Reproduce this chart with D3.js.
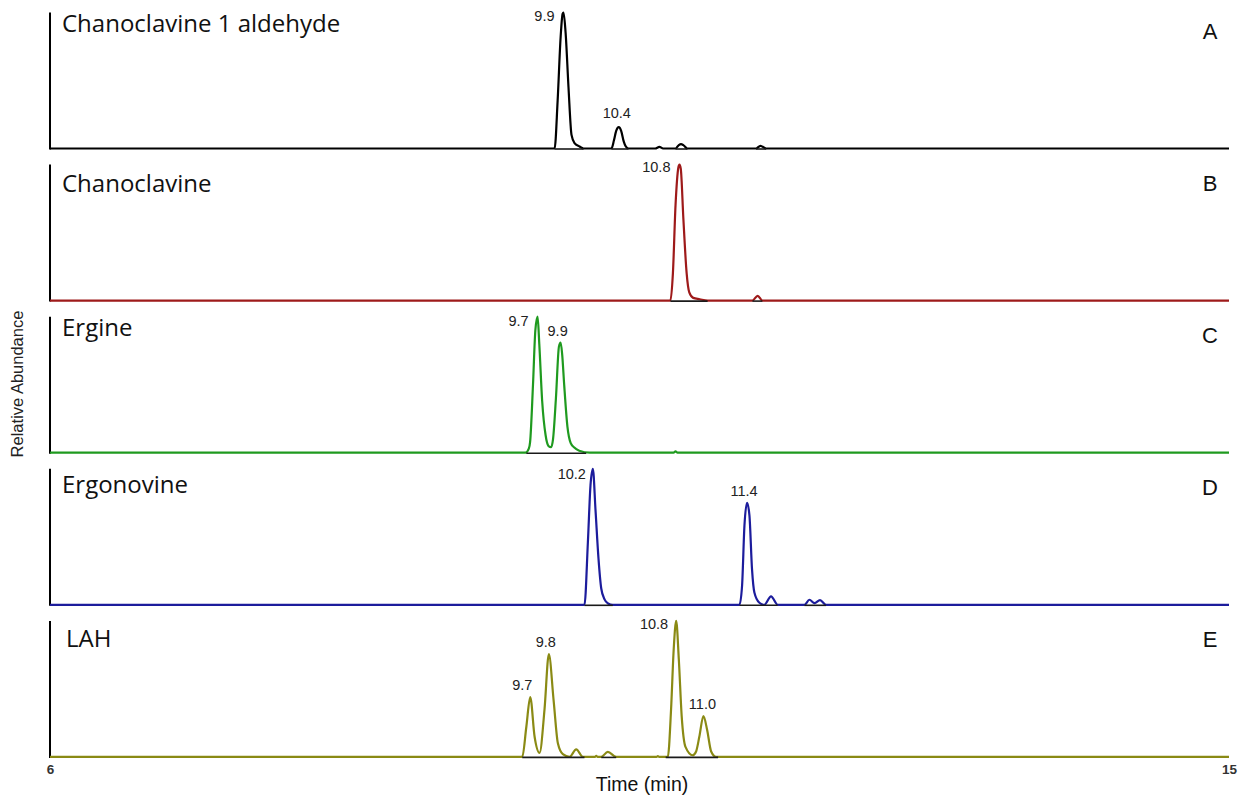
<!DOCTYPE html>
<html>
<head>
<meta charset="utf-8">
<script src="https://cdn.jsdelivr.net/npm/d3@7"></script>
<style>
  html, body { margin: 0; padding: 0; background: #fff; }
  svg { display: block; }
</style>
</head>
<body>
<svg id="chart" width="1244" height="799"></svg>
<script>
// Extracted ion chromatograms, retention time (min) vs relative abundance (0-1)
const panelNames = ["Chanoclavine 1 aldehyde", "Chanoclavine", "Ergine", "Ergonovine", "LAH"];
const panelLetters = ["A", "B", "C", "D", "E"];
const timeTicks = [6, 15];

const traceA = [[6,0],[9.852,0],[9.875,0.35],[9.898,0.82],[9.913,0.99],[9.920,1.0],[9.936,0.85],[9.958,0.45],[9.981,0.10],[10.004,0.04],[10.042,0.015],[10.073,0],
  [10.286,0],[10.305,0.06],[10.322,0.13],[10.342,0.157],[10.36,0.13],[10.38,0.05],[10.395,0.015],[10.416,0],
  [10.62,0],[10.652,0.012],[10.68,0],[10.775,0],[10.80,0.025],[10.817,0.032],[10.835,0.025],[10.866,0],
  [11.39,0],[11.423,0.02],[11.467,0],[15,0]];
const traceB = [[6,0],[10.736,0],[10.755,0.2],[10.775,0.7],[10.797,0.98],[10.805,1],[10.815,0.97],[10.835,0.6],[10.86,0.2],[10.88,0.06],[10.91,0.02],[10.96,0.01],[11.02,0],
  [11.362,0],[11.402,0.035],[11.438,0],[15,0]];
const traceC = [[6,0],[9.630,0],[9.655,0.03],[9.665,0.08],[9.687,0.5],[9.705,0.9],[9.722,1.0],[9.735,0.8],[9.757,0.38],[9.783,0.13],[9.805,0.05],[9.825,0.04],
  [9.840,0.1],[9.862,0.4],[9.885,0.78],[9.898,0.81],[9.910,0.72],[9.925,0.5],[9.950,0.19],[9.975,0.07],[10.0,0.04],[10.04,0.015],[10.12,0],
  [10.76,0],[10.775,0.01],[10.79,0],[15,0]];
const traceD = [[6,0],[10.080,0],[10.106,0.46],[10.126,0.88],[10.144,1.0],[10.164,0.7],[10.187,0.34],[10.208,0.12],[10.233,0.04],[10.26,0.01],[10.296,0],
  [11.263,0],[11.283,0.14],[11.301,0.58],[11.321,0.75],[11.339,0.66],[11.359,0.26],[11.377,0.09],[11.415,0.015],[11.453,0],[11.504,0.062],[11.555,0],
  [11.759,0],[11.797,0.037],[11.836,0.012],[11.878,0.035],[11.924,0],[15,0]];
const traceE = [[6,0],[9.605,0],[9.636,0.22],[9.666,0.44],[9.699,0.15],[9.737,0.03],[9.775,0.35],[9.808,0.755],[9.844,0.42],[9.877,0.1],[9.915,0.02],[9.966,0],
  [10.017,0.055],[10.068,0],[10.16,0],[10.17,0.008],[10.18,0],[10.208,0],[10.258,0.037],[10.322,0],[10.63,0],[10.64,0.006],[10.65,0],
  [10.716,0],[10.741,0.35],[10.761,0.79],[10.780,1.0],[10.800,0.72],[10.822,0.30],[10.851,0.074],[10.906,0.012],[10.932,0.04],[10.957,0.15],[10.988,0.30],[11.016,0.2],[11.047,0.04],[11.085,0],[15,0]];
const traces = [traceA, traceB, traceC, traceD, traceE];

// Integration baselines drawn beneath the integrated peaks: [start, end] in minutes
const integA = [[9.852,10.073],[10.286,10.416],[10.775,10.866],[11.39,11.467]];
const integB = [[10.736,11.02],[11.362,11.438]];
const integC = [[9.636,10.093]];
const integD = [[10.080,10.296],[11.263,11.555],[11.759,11.924]];
const integE = [[9.605,10.08],[10.208,10.322],[10.70,11.10]];
const integrations = [integA, integB, integC, integD, integE];

// Retention-time annotations: [text, apex time, apex abundance]
const peaksA = [["9.9", 9.920, 1.0], ["10.4", 10.342, 0.157]];
const peaksB = [["10.8", 10.805, 1.0]];
const peaksC = [["9.7", 9.722, 1.0], ["9.9", 9.898, 0.81]];
const peaksD = [["10.2", 10.144, 1.0], ["11.4", 11.321, 0.75]];
const peaksE = [["9.7", 9.666, 0.44], ["9.8", 9.808, 0.755], ["10.8", 10.780, 1.0], ["11.0", 10.988, 0.30]];
const peakLabels = [peaksA, peaksB, peaksC, peaksD, peaksE];

// label placement relative to apex: [dx, dy, anchor]
const labelPlacement = [
  [[-9, 8, "end"], [-2, -9, "middle"]],
  [[-9, 7, "end"]],
  [[-9, 9, "end"], [-3, -7, "middle"]],
  [[-7, 10, "end"], [-3, -7, "middle"]],
  [[-8, -7, "middle"], [-3, -7, "middle"], [-8, 8, "end"], [-1, -7, "middle"]]
];

// compound-name layout: [x, baseline offset below panel top]
const nameLayout = [[62, 19], [62, 27], [62, 19], [62, 24], [66, 26]];

const colors = ["#000000", "#9e1a1a", "#1f9a1f", "#1c1c9c", "#8a8a14"];

const svg = d3.select("#chart");
const x = d3.scaleLinear().domain([6, 15]).range([50, 1229]);

const panelHeight = 136;
const panelStep = 152.1;
const firstBase = 148.5;

traces.forEach((trace, i) => {
  const base = firstBase + panelStep * i;
  const y = d3.scaleLinear().domain([0, 1]).range([base, base - panelHeight]);
  const g = svg.append("g");

  // y axis line (no ticks)
  g.append("line")
    .attr("x1", x(6)).attr("x2", x(6))
    .attr("y1", y(1)).attr("y2", y(0) + 1)
    .attr("stroke", "#000").attr("stroke-width", 2);

  const line = d3.line()
    .x(d => x(d[0]))
    .y(d => y(d[1]))
    .curve(d3.curveMonotoneX);

  g.append("path")
    .datum(trace)
    .attr("fill", "none")
    .attr("stroke", colors[i])
    .attr("stroke-width", 2.2)
    .attr("stroke-linejoin", "round")
    .attr("d", line);

  g.selectAll("line.integ")
    .data(integrations[i])
    .join("line")
    .attr("class", "integ")
    .attr("x1", d => x(d[0])).attr("x2", d => x(d[1]))
    .attr("y1", y(0) + 0.5).attr("y2", y(0) + 0.5)
    .attr("stroke", "#1a1a1a").attr("stroke-width", 1.6);

  // compound name
  g.append("text")
    .attr("x", nameLayout[i][0]).attr("y", y(1) + nameLayout[i][1])
    .attr("font-family", "'Open Sans', Lato, sans-serif")
    .attr("font-size", 24)
    .attr("fill", "#111")
    .text(panelNames[i]);

  // panel letter
  g.append("text")
    .attr("x", 1210).attr("y", y(1) + 26)
    .attr("text-anchor", "middle")
    .attr("font-family", "'Liberation Sans', Arial, sans-serif")
    .attr("font-size", 22)
    .attr("fill", "#111")
    .text(panelLetters[i]);

  // peak annotations
  g.selectAll("text.peak")
    .data(peakLabels[i])
    .join("text")
    .attr("class", "peak")
    .attr("x", (d, k) => x(d[1]) + labelPlacement[i][k][0])
    .attr("y", (d, k) => y(d[2]) + labelPlacement[i][k][1])
    .attr("text-anchor", (d, k) => labelPlacement[i][k][2])
    .attr("font-family", "'Liberation Sans', Arial, sans-serif")
    .attr("font-size", 14.5)
    .attr("fill", "#222")
    .text(d => d[0]);
});

// time axis: only the end values are labelled
const lastBase = firstBase + panelStep * 4;
const axis = d3.axisBottom(x).tickValues(timeTicks).tickSize(0).tickPadding(8).tickFormat(d3.format("d"));
const ax = svg.append("g").attr("transform", `translate(0,${lastBase})`).call(axis);
ax.select(".domain").remove();
ax.selectAll("text")
  .attr("font-family", "'Liberation Sans', Arial, sans-serif")
  .attr("font-size", 13.5)
  .attr("font-weight", "bold")
  .attr("fill", "#333");

svg.append("text")
  .attr("x", 642).attr("y", 791)
  .attr("text-anchor", "middle")
  .attr("font-family", "'Liberation Sans', Arial, sans-serif")
  .attr("font-size", 19.5)
  .attr("fill", "#111")
  .text("Time (min)");

svg.append("text")
  .attr("transform", "translate(23,384) rotate(-90)")
  .attr("text-anchor", "middle")
  .attr("font-family", "'Liberation Sans', Arial, sans-serif")
  .attr("font-size", 16.5)
  .attr("fill", "#222")
  .text("Relative Abundance");
</script>
</body>
</html>
